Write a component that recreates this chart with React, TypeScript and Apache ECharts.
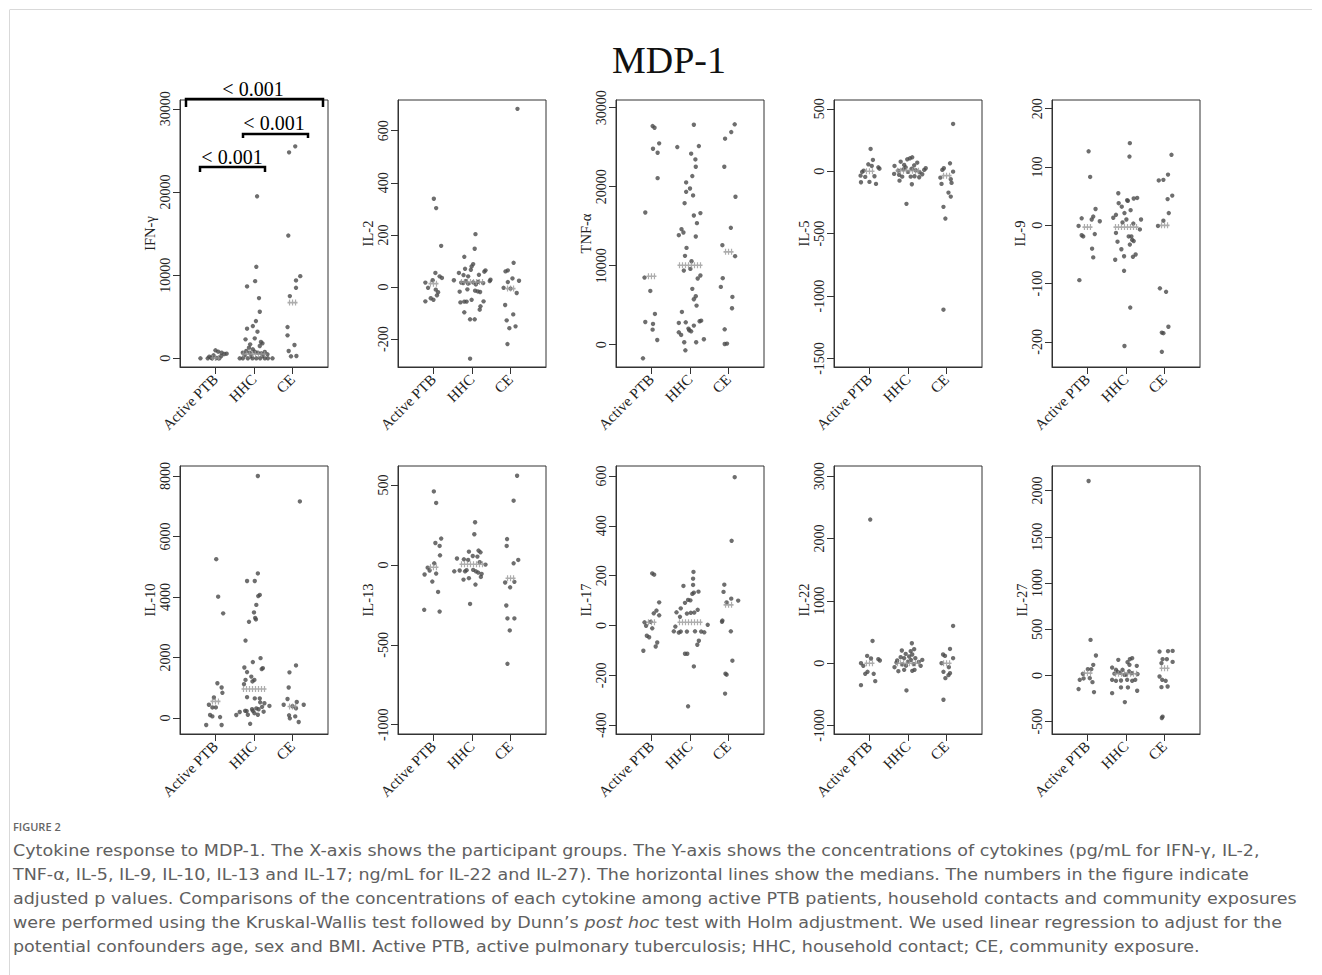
import React, { useEffect, useRef } from "react";
import * as echarts from "echarts";

// ---------- categories & labels ----------
const groups = ["Active PTB", "HHC", "CE"];
const cytokines = ["IFN-γ", "IL-2", "TNF-α", "IL-5", "IL-9", "IL-10", "IL-13", "IL-17", "IL-22", "IL-27"];

// ---------- data: [jitter, value] per participant ----------
const ifngPTB = [[-0.39,0],[-0.2,0],[-0.11,80],[0.1,0],[-0.16,200],[0.15,280],[0,960],[0.07,800],[0.16,680],[0.23,520],[0.29,560],[-0.05,360],[0.03,40],[-0.09,0]];
const ifngHHC = [[0.08,19480],[0.06,11000],[0.03,9280],[-0.18,8640],[0.13,7240],[0.15,5600],[0.05,4480],[-0.03,3880],[-0.18,3560],[0.09,3200],[-0.22,2280],[0.02,2400],[0.18,1960],[0.22,1800],[-0.1,1680],[-0.13,1280],[-0.03,1080],[0.15,1480],[-0.37,0],[-0.29,0],[-0.16,0],[-0.04,0],[0.06,0],[0.16,0],[0.28,0],[0.36,0],[0.48,0],[-0.29,680],[-0.2,880],[-0.11,680],[0.02,800],[0.1,680],[0.19,600],[0.28,760],[0.35,480],[-0.24,360],[-0.07,280],[0.23,280]];
const ifngCE = [[-0.09,24760],[0.07,25480],[-0.11,14760],[0.2,9880],[0.09,9360],[0.09,8480],[-0.07,7480],[-0.13,3760],[-0.13,2760],[0.05,1600],[-0.1,880],[-0.04,240],[0.1,280]];
const ifngMed = [30, 500, 6700];

const il2PTB = [[0.01,339],[0.07,303],[0.2,158],[0.05,54],[0.16,41],[0.22,35],[-0.21,17],[-0.02,26],[-0.14,-3],[0.06,-10],[0.12,-20],[0.09,-32],[-0.07,-43],[0,-49],[-0.21,-55]];
const il2HHC = [[0.09,203],[0.07,147],[-0.2,116],[0.03,88],[-0.01,79],[-0.18,70],[-0.03,66],[0.35,64],[0.32,59],[-0.34,54],[-0.22,46],[0.18,47],[-0.1,41],[-0.47,26],[0.48,28],[0.46,23],[-0.28,17],[-0.32,-18],[-0.12,-9],[0.08,-14],[0.15,-17],[0.21,-19],[0.3,-55],[-0.3,-59],[-0.2,-56],[-0.14,-56],[-0.01,-49],[0.22,-74],[0.2,-87],[-0.2,-97],[-0.05,-124],[0.07,-124],[-0.05,-275],[-0.23,15],[-0.1,13],[0.03,18],[0.16,20],[0.29,15],[-0.16,23],[0.1,10]];
const il2CE = [[0.18,684],[0.08,93],[-0.07,64],[-0.13,60],[0.05,33],[0.22,24],[-0.07,19],[-0.18,-3],[0,-6],[0.16,-23],[-0.14,-69],[0.07,-105],[-0.1,-128],[-0.03,-158],[0.13,-151],[-0.08,-219]];
const il2Med = [13, 19, -6];

const tnfPTB = [[0.03,27670],[0.08,27460],[0.2,25480],[0.04,24800],[0.16,24290],[0.16,21080],[-0.16,16730],[-0.18,8490],[-0.03,6800],[0.09,3890],[-0.16,2870],[0.04,2620],[0.03,1900],[0.15,590],[-0.22,-1730]];
const tnfHHC = [[0.1,27840],[-0.33,25010],[0.23,25140],[0.03,24170],[0.14,23450],[0.15,22520],[0.06,21340],[-0.1,20530],[0,19770],[-0.1,19350],[0.08,18890],[-0.14,17910],[0.1,16350],[0.27,16650],[0.18,15380],[-0.22,14620],[-0.17,14200],[-0.29,13860],[0.15,13690],[-0.09,12250],[-0.13,11240],[0.04,10560],[-0.16,9380],[0.01,9590],[0.27,8750],[0.2,8370],[0.06,7060],[0.15,6130],[0.1,5750],[0.17,4940],[-0.21,4140],[-0.29,2750],[-0.11,2830],[0.25,2960],[0.29,3040],[0.1,2410],[-0.04,2030],[-0.02,1820],[0.03,1690],[-0.29,1560],[-0.23,1230],[-0.15,300],[0.16,300],[0.36,680],[-0.12,-720]];
const tnfCE = [[0.16,27890],[0.07,26910],[-0.09,26070],[-0.11,22520],[0.18,18720],[0.06,14790],[-0.16,12590],[0.17,11200],[-0.15,8410],[-0.2,7310],[0.1,6040],[0.09,4610],[-0.1,1940],[-0.1,80],[-0.04,130]];
const tnfMed = [8660, 10060, 11750];

const il5PTB = [[0.03,179],[0.09,91],[-0.03,56],[0.06,43],[-0.15,5],[-0.19,-5],[0.23,32],[0.26,21],[-0.23,-35],[-0.11,-45],[0.13,-40],[-0.22,-88],[0,-85],[0.17,-101]];
const il5HHC = [[0.11,112],[0.05,104],[-0.02,96],[-0.19,77],[0.24,69],[-0.35,43],[-0.1,51],[0.16,48],[-0.06,32],[0.46,24],[0.42,11],[-0.36,-21],[-0.23,-29],[-0.15,-43],[0.07,-43],[0.17,-40],[0.29,-48],[0.37,-24],[-0.22,-75],[0.1,-104],[-0.04,-261],[-0.25,5],[0,-5],[0.2,8],[-0.12,15],[0.3,-8],[0.1,20]];
const il5CE = [[0.17,379],[0.09,64],[-0.07,24],[-0.11,11],[0.17,-3],[-0.16,-51],[0.11,-64],[-0.13,-101],[0.13,-93],[0.05,-171],[0.11,-203],[-0.08,-285],[-0.03,-379],[-0.08,-1109]];
const il5Med = [0, 5, -35];

const il9PTB = [[0.03,127],[0.07,83],[0.21,28],[0.15,15],[-0.15,12],[0.32,7],[0.11,10],[-0.23,-1],[-0.15,-17],[-0.11,-19],[0.19,-15],[0.12,-40],[0.15,-55],[-0.21,-94]];
const il9HHC = [[0.1,141],[0.09,118],[-0.2,55],[0.03,43],[0.05,42],[0.2,46],[0.29,47],[-0.19,38],[-0.11,32],[0.12,26],[-0.26,18],[-0.04,21],[-0.33,13],[0.01,10],[0.39,10],[-0.09,5],[0.19,3],[0.36,-7],[-0.26,-13],[0.07,-19],[0.14,-19],[0.16,-25],[-0.22,-28],[0.2,-27],[-0.12,-41],[0.1,-33],[-0.05,-53],[0.18,-54],[0.25,-50],[-0.28,-59],[-0.05,-78],[0.11,-141],[-0.04,-207]];
const il9CE = [[0.18,121],[0.09,87],[-0.15,77],[-0.03,78],[0.2,51],[0.08,45],[0.11,21],[-0.03,8],[-0.17,-1],[-0.12,-108],[0.04,-114],[0.1,-174],[-0.07,-184],[-0.03,-185],[-0.07,-217]];
const il9Med = [-3, -3, 0];

const il10PTB = [[0.02,5250],[0.07,4010],[0.2,3460],[0.05,1150],[0.16,1010],[0.18,835],[-0.04,680],[-0.17,440],[-0.08,350],[0.01,350],[-0.14,100],[-0.08,55],[0.12,33],[-0.24,-230],[0.16,-230]];
const il10HHC = [[0.1,8000],[0.1,4780],[-0.18,4530],[0.02,4530],[0.15,4070],[0.11,4030],[0.06,3740],[0,3490],[0.03,3310],[0.05,3260],[-0.13,3180],[-0.22,2560],[0.17,1980],[-0.03,1850],[0.23,1650],[0.2,1620],[-0.25,1670],[-0.18,1520],[-0.07,1370],[-0.22,1260],[0.01,1260],[-0.04,1210],[-0.26,1120],[-0.18,690],[0.02,650],[0.15,650],[0.16,520],[0.27,490],[-0.46,100],[-0.37,200],[-0.23,240],[-0.19,230],[-0.05,290],[-0.03,240],[0.06,320],[0.12,290],[0.21,370],[0.25,210],[0.4,400],[0.01,160],[-0.16,110],[0.1,110],[-0.1,-190]];
const il10CE = [[0.19,7160],[0.09,1740],[-0.08,1510],[-0.1,1010],[-0.13,630],[-0.23,440],[0.11,530],[0.09,320],[0.29,440],[-0.09,90],[-0.07,-10],[0.07,55],[0.16,-130],[0,390]];
const il10Med = [550, 960, 380];

const il13PTB = [[0.01,460],[0.07,388],[0.2,165],[0.05,137],[0.16,119],[0.17,60],[0.02,10],[-0.15,-17],[0.07,-54],[-0.23,-60],[-0.1,-35],[-0.03,-104],[0.12,-169],[-0.24,-281],[0.16,-292]];
const il13HHC = [[0.08,267],[0.06,192],[0.17,90],[0.22,79],[-0.08,83],[-0.21,35],[0.02,56],[-0.39,40],[-0.1,31],[0.14,52],[0.2,17],[0.35,2],[-0.46,-40],[-0.32,-35],[-0.18,-40],[-0.14,-33],[0.03,-31],[0.1,-40],[0.16,-48],[0.25,-56],[0.23,-75],[-0.22,-92],[-0.08,-83],[0.09,-123],[-0.05,-244]];
const il13CE = [[0.17,558],[0.08,402],[-0.09,162],[-0.1,119],[0.2,31],[0.08,10],[-0.14,-110],[0.1,-106],[-0.01,-140],[-0.11,-254],[-0.08,-335],[0.1,-335],[-0.02,-410],[-0.08,-619]];
const il13Med = [-15, 4, -83];

const il17PTB = [[0.02,209],[0.07,204],[0.2,93],[0.13,60],[0.06,49],[0.2,41],[-0.18,13],[-0.02,15],[-0.14,-1],[0.02,-11],[-0.12,-41],[-0.06,-47],[0.15,-68],[0.11,-84],[-0.21,-101]];
const il17HHC = [[0.09,215],[0.08,188],[-0.17,159],[0.08,163],[0.06,127],[0.1,132],[0.22,136],[-0.05,103],[0.01,101],[-0.13,91],[0.2,63],[-0.24,69],[-0.35,53],[-0.08,48],[0.02,51],[0.11,52],[-0.26,35],[-0.38,-4],[0.46,3],[-0.42,-23],[-0.24,-24],[-0.29,-28],[-0.08,-24],[0.13,-23],[0.29,-24],[0.37,-27],[0.23,-61],[0.19,-77],[-0.13,-113],[-0.07,-113],[0.1,-164],[-0.05,-324]];
const il17CE = [[0.16,595],[0.08,340],[-0.11,164],[-0.13,135],[0.07,108],[0.25,100],[-0.05,93],[-0.16,20],[-0.17,15],[0.06,-23],[0.1,-141],[-0.08,-193],[-0.05,-197],[-0.09,-273]];
const il17Med = [13, 13, 83];

const il22PTB = [[0.02,2304],[0.08,357],[-0.06,117],[0.04,75],[0.23,64],[0.27,43],[-0.22,0],[-0.16,-43],[-0.05,-139],[-0.11,-171],[0.11,-171],[0.15,-288],[-0.22,-352]];
const il22HHC = [[0.1,320],[0.16,224],[-0.16,203],[0.07,192],[-0.06,149],[0.11,139],[-0.19,96],[-0.1,80],[0.03,107],[0.19,80],[-0.28,43],[-0.35,-64],[-0.25,-128],[-0.1,-107],[0.11,-123],[0.17,-107],[0.33,-43],[0.37,53],[-0.04,-437],[-0.3,10],[-0.15,-20],[0,25],[0.15,-15],[0.28,20],[-0.05,-40],[0.08,50]];
const il22CE = [[0.17,597],[0.09,229],[-0.09,139],[-0.04,117],[0.17,80],[-0.13,0],[0.06,-64],[-0.08,-139],[0.09,-160],[0.05,-192],[-0.03,-240],[-0.08,-587]];
const il22Med = [0, 0, 0];

const il27PTB = [[0.03,2104],[0.08,385],[0.22,216],[0.15,115],[0.01,68],[0.1,68],[-0.12,18],[-0.2,-47],[-0.1,-32],[0.06,-29],[0.13,-72],[-0.23,-147],[0.17,-180]];
const il27HHC = [[0.16,187],[0.1,176],[-0.2,169],[0.04,144],[0.09,115],[-0.36,86],[-0.09,61],[-0.26,61],[0.28,104],[-0.04,7],[-0.36,-47],[-0.13,-54],[-0.26,-58],[0.03,-47],[0.16,-58],[0.24,-47],[-0.13,-129],[0.05,-129],[0.29,-165],[-0.36,-191],[-0.03,-288],[-0.3,20],[-0.15,30],[0,10],[0.15,25],[0.3,15],[-0.22,40],[0.08,45]];
const il27CE = [[0.21,266],[-0.13,259],[0.09,263],[0.21,147],[-0.05,176],[0.06,176],[-0.08,133],[-0.13,-11],[-0.06,-47],[0.03,-58],[-0.08,-126],[0.08,-119],[-0.05,-446],[-0.07,-460]];
const il27Med = [25, 18, 79];

// ---------- axis scales ----------
const yLimits = [[-1043,31055],[-307,718],[-2830,30970],[-1568,571],[-243,215],[-527,8330],[-1058,619],[-435,640],[-1136,3163],[-633,2266]];
const yTicks = [
  [0,10000,20000,30000],
  [-200,0,200,400,600],
  [0,10000,20000,30000],
  [-1500,-1000,-500,0,500],
  [-200,-100,0,100,200],
  [0,2000,4000,6000,8000],
  [-1000,-500,0,500],
  [-400,-200,0,200,400,600],
  [-1000,0,1000,2000,3000],
  [-500,0,500,1000,1500,2000],
];
const xTicks = [1, 2, 3];
const xLimits = [0.08, 3.92];
const pValues = ["< 0.001", "< 0.001", "< 0.001"];

const groupData = [
  [ifngPTB, ifngHHC, ifngCE], [il2PTB, il2HHC, il2CE], [tnfPTB, tnfHHC, tnfCE],
  [il5PTB, il5HHC, il5CE], [il9PTB, il9HHC, il9CE], [il10PTB, il10HHC, il10CE],
  [il13PTB, il13HHC, il13CE], [il17PTB, il17HHC, il17CE], [il22PTB, il22HHC, il22CE],
  [il27PTB, il27HHC, il27CE],
];
const medians = [ifngMed, il2Med, tnfMed, il5Med, il9Med, il10Med, il13Med, il17Med, il22Med, il27Med];

// ---------- layout ----------
const LEFTS = [180, 398, 616, 834, 1052];
const TOPS = [100, 466];
const GW = 148;
const GH = [267, 268];
const NAME_GAP = [22, 16, 22, 21, 25, 20, 16, 23, 21, 21];
const SERIF = "'Liberation Serif', 'Times New Roman', serif";
const SANS = "'DejaVu Sans', 'Open Sans', sans-serif";
const SANS2 = "'Open Sans', 'Noto Sans', sans-serif";
const CAP_SCALE = 1.095;

function crossPath(n: number) {
  const w = 3 * (n - 1) + 4;
  let d = `M0,2.2H${w}V3.8H0Z`;
  for (let i = 0; i < n; i++) {
    const x = 1.4 + 3 * i;
    d += ` M${x},0H${x + 1.2}V6H${x}Z`;
  }
  return "path://" + d;
}
const MED_STYLE = [
  { n: 3, w: 10 },
  { n: 8, w: 25 },
  { n: 3, w: 10 },
];

function buildOption() {
  const grid: any[] = [];
  const xAxis: any[] = [];
  const yAxis: any[] = [];
  const series: any[] = [];
  cytokines.forEach((name, i) => {
    const row = Math.floor(i / 5);
    const col = i % 5;
    grid.push({
      left: LEFTS[col], top: TOPS[row], width: GW, height: GH[row],
      show: true, borderColor: "#333", borderWidth: 1, backgroundColor: "transparent",
    });
    xAxis.push({
      type: "value", gridIndex: i, min: xLimits[0], max: xLimits[1],
      splitLine: { show: false },
      axisLine: { show: true, onZero: false, lineStyle: { color: "#333" } },
      axisTick: { show: true, inside: false, length: 7, customValues: xTicks, lineStyle: { color: "#333" } },
      axisLabel: {
        customValues: xTicks, rotate: 45, margin: 10, fontSize: 15, color: "#222", fontFamily: SERIF,
        formatter: (v: number) => groups[Math.round(v) - 1] ?? "",
      },
    });
    yAxis.push({
      type: "value", gridIndex: i, min: yLimits[i][0], max: yLimits[i][1],
      name, nameLocation: "middle", nameRotate: 90, nameGap: NAME_GAP[i],
      nameTextStyle: { fontSize: 14.5, color: "#222", fontFamily: SERIF },
      splitLine: { show: false },
      axisLine: { show: true, onZero: false, lineStyle: { color: "#333" } },
      axisTick: { show: true, inside: false, length: 7, customValues: yTicks[i], lineStyle: { color: "#333" } },
      axisLabel: {
        customValues: yTicks[i], rotate: 90, margin: 8, fontSize: 14, color: "#222", fontFamily: SERIF,
        hideOverlap: false, showMinLabel: true, showMaxLabel: true,
        formatter: (v: number) => String(v),
      },
    });
    const pts: number[][] = [];
    groupData[i].forEach((g, k) => g.forEach(([j, v]) => pts.push([k + 1 + j, v])));
    series.push({
      type: "scatter", xAxisIndex: i, yAxisIndex: i, data: pts, symbol: "circle", symbolSize: 4.4,
      itemStyle: { color: "#4a4a4a" }, silent: true, z: 2,
    });
    series.push({
      type: "scatter", xAxisIndex: i, yAxisIndex: i, silent: true, z: 3,
      data: medians[i].map((m, k) => ({
        value: [k + 1, m], symbol: crossPath(MED_STYLE[k].n), symbolSize: [MED_STYLE[k].w, 6],
      })),
      itemStyle: { color: "#999999" },
    });
  });

  const bracket = (x1: number, x2: number, y: number, drop: number) => ({
    type: "polyline",
    shape: { points: [[x1, y + drop], [x1, y], [x2, y], [x2, y + drop]] },
    style: { stroke: "#000", lineWidth: 2.5, fill: null },
    silent: true,
  });
  const ptxt = (x: number, y: number, t: string) => ({
    type: "text", x, y,
    style: { text: t, fontSize: 20, fontFamily: SERIF, fill: "#000", align: "center", verticalAlign: "middle" },
    silent: true,
  });
  const cap = (y: number, t: string, extra: any = {}) => ({
    type: "text", x: 13, y, scaleX: CAP_SCALE,
    style: { text: t, fontSize: 16, fontFamily: SANS, fill: "#606060", verticalAlign: "middle", ...extra },
    silent: true,
  });

  const graphic: any[] = [
    { type: "line", shape: { x1: 10, y1: 9.5, x2: 1312, y2: 9.5 }, style: { stroke: "#d9d9d9", lineWidth: 1 }, silent: true },
    { type: "line", shape: { x1: 9.5, y1: 9.5, x2: 9.5, y2: 975 }, style: { stroke: "#d9d9d9", lineWidth: 1 }, silent: true },
    {
      type: "text", x: 669, y: 60,
      style: { text: "MDP-1", fontSize: 38, fontFamily: SERIF, fill: "#111", align: "center", verticalAlign: "middle" },
      silent: true,
    },
    bracket(186, 323, 99, 8),
    ptxt(253, 89, pValues[0]),
    bracket(243, 308, 134, 4),
    ptxt(274, 123, pValues[1]),
    bracket(200, 265, 167, 5),
    ptxt(232, 157, pValues[2]),
    {
      type: "text", x: 13, y: 826,
      style: { text: "FIGURE 2", fontSize: 11, fontWeight: 600, fontFamily: SANS2, fill: "#666", verticalAlign: "middle" },
      silent: true,
    },
    cap(850, "Cytokine response to MDP-1. The X-axis shows the participant groups. The Y-axis shows the concentrations of cytokines (pg/mL for IFN-γ, IL-2,"),
    cap(874, "TNF-α, IL-5, IL-9, IL-10, IL-13 and IL-17; ng/mL for IL-22 and IL-27). The horizontal lines show the medians. The numbers in the figure indicate"),
    cap(898, "adjusted p values. Comparisons of the concentrations of each cytokine among active PTB patients, household contacts and community exposures"),
    cap(922, "were performed using the Kruskal-Wallis test followed by Dunn\u2019s {i|post hoc} test with Holm adjustment. We used linear regression to adjust for the", {
      rich: { i: { fontStyle: "italic", fontSize: 16, fontFamily: SANS, fill: "#606060" } },
    }),
    cap(946, "potential confounders age, sex and BMI. Active PTB, active pulmonary tuberculosis; HHC, household contact; CE, community exposure."),
  ];

  return {
    animation: false,
    backgroundColor: "#ffffff",
    textStyle: { fontFamily: SERIF },
    grid, xAxis, yAxis, series, graphic,
  };
}

export default function App() {
  const ref = useRef<HTMLDivElement>(null);
  useEffect(() => {
    if (!ref.current) return;
    const chart = echarts.init(ref.current, undefined, { renderer: "svg" });
    chart.setOption(buildOption() as any);
    return () => chart.dispose();
  }, []);
  return (
    <div
      ref={ref}
      style={{ position: "absolute", left: 0, top: 0, width: 1322, height: 975, background: "#fff" }}
    />
  );
}
